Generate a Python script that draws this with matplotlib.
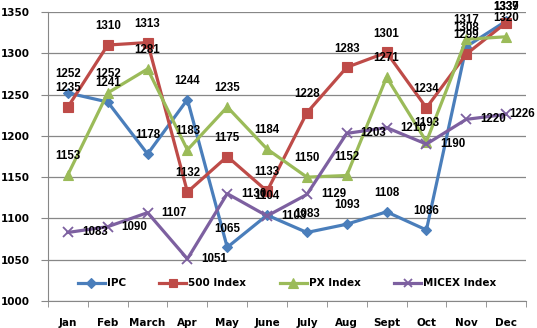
import matplotlib

matplotlib.use("Agg")
import matplotlib.pyplot as plt
from matplotlib.ticker import FixedLocator, NullFormatter

# monthly index levels
months = ["Jan", "Feb", "March", "Apr", "May", "June", "July", "Aug", "Sept", "Oct", "Nov", "Dec"]
ipc = [1252, 1241, 1178, 1244, 1065, 1104, 1083, 1093, 1108, 1086, 1308, 1339]
idx500 = [1235, 1310, 1313, 1132, 1175, 1133, 1228, 1283, 1301, 1234, 1299, 1337]
px = [1153, 1252, 1281, 1183, 1235, 1184, 1150, 1152, 1271, 1193, 1317, 1320]
micex = [1083, 1090, 1107, 1051, 1130, 1103, 1129, 1203, 1210, 1190, 1220, 1226]
y_ticks = [1000, 1050, 1100, 1150, 1200, 1250, 1300, 1350]

BLUE = "#4a7ebb"
RED = "#be4b48"
GREEN = "#9bbb59"
PURPLE = "#7d60a0"
GRID = "#878787"

W, H = 537, 328
fig = plt.figure(figsize=(W / 100, H / 100), dpi=100)
ax = fig.add_axes([48 / W, 1 - 301 / H, 478 / W, 289 / H])
ax.set_xlim(-0.5, len(months) - 0.5)
ax.set_ylim(1000, 1350)

x = list(range(len(months)))
series = [
    ("IPC", ipc, BLUE, "D", 5.5, "above"),
    ("500 Index", idx500, RED, "s", 6.5, "above"),
    ("PX Index", px, GREEN, "^", 7.5, "above"),
    ("MICEX Index", micex, PURPLE, "x", 7, "right"),
]
label_kw = dict(textcoords="offset points", fontsize=8.3, family="Liberation Sans",
                fontweight="bold", color="black", zorder=5, annotation_clip=False)
for name, vals, col, mk, ms, where in series:
    ax.plot(x, vals, color=col, lw=2.3, marker=mk, ms=ms, mew=1.3 if mk == "x" else 0.8,
            mec=col, mfc=col, label=name, zorder=3, clip_on=False)
    for xi, v in zip(x, vals):
        px_x, px_y = ax.transData.transform((xi, v))
        if where == "above":
            # keep labels inside the figure: centre no closer than 7 px to the top
            dy = min(13.5, (H - 7 - px_y) * 0.72)
            ax.annotate(str(v), (xi, v), xytext=(0, dy), ha="center", va="center", **label_kw)
        else:
            dx = min(10, (W - 28 - px_x) * 0.72)
            ax.annotate(str(v), (xi, v), xytext=(dx, 0), ha="left", va="center", **label_kw)

ax.set_yticks(y_ticks)
ax.set_xticks(x, months)
ax.xaxis.set_minor_locator(FixedLocator([i - 0.5 for i in range(len(months) + 1)]))
ax.xaxis.set_minor_formatter(NullFormatter())
ax.tick_params(axis="x", which="major", length=0, pad=12)
ax.tick_params(axis="x", which="minor", length=4, color=GRID, direction="out")
ax.tick_params(axis="y", length=5, color=GRID, pad=8)
for lab in ax.get_xticklabels() + ax.get_yticklabels():
    lab.set_fontweight("bold")
    lab.set_fontsize(7.5)
    lab.set_family("DejaVu Sans")

ax.grid(axis="y", color=GRID, lw=0.9, zorder=0)
ax.spines[["top", "right"]].set_visible(False)
ax.spines["left"].set_color(GRID)
ax.spines["bottom"].set_color(GRID)
ax.set_facecolor("white")

leg = ax.legend(loc="center", bbox_to_anchor=(0.5, 0.061), ncol=4, frameon=False,
                prop={"family": "DejaVu Sans", "weight": "bold", "size": 7.5},
                handlelength=2.6, columnspacing=3.2, handletextpad=0.2, markerscale=0.9)
leg.set_zorder(6)

fig.savefig("out.png", dpi=100, facecolor="white")
